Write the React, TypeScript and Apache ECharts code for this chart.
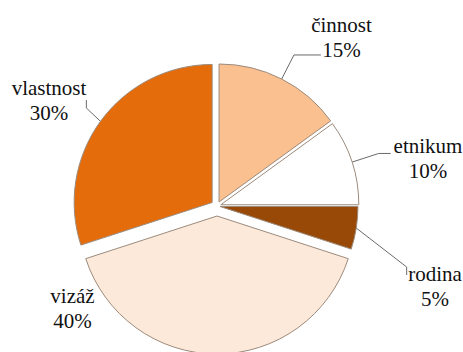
import React, { useEffect, useRef } from "react";
import * as echarts from "echarts";

// ---- data ----
const categories = ["činnost", "etnikum", "rodina", "vizáž", "vlastnost"];
const values = [15, 10, 5, 40, 30];
const colors = ["#FAC090", "#FFFFFF", "#984807", "#FDE9D9", "#E46C0A"];

// ---- per-slice presentation (explode offsets, leader lines, label text placement) ----
const sliceCfg: any[] = [
  { offset: 4.5, length: 27, length2: 27, layout: null, width: 10, line: true, tx: 341.5, ty: 25 },
  { offset: 4, length: 28, length2: 12, layout: null, width: 10, line: true, tx: 428, ty: 146 },
  { offset: 3, length: 10, length2: 8, layout: { x: 405, y: 281, align: "left" }, width: 50, line: true, tx: 435, ty: 274 },
  { offset: 10, length: 10, length2: 5, layout: null, width: 10, line: false, tx: 72.5, ty: 295.5 },
  { offset: 6, length: 10, length2: 8, layout: { x: 88, y: 94, align: "right" }, width: 60, line: true, tx: 49, ty: 88 },
];

const CX = 217;
const CY = 206;
const FONT = "21px Liberation Serif";
const LINE_GAP = 25;

const total = values.reduce((a, b) => a + b, 0);

function buildSeries(i: number) {
  const cfg = sliceCfg[i];
  const before = values.slice(0, i).reduce((a, b) => a + b, 0);
  const mid = ((before + values[i] / 2) / total) * Math.PI * 2;
  const center = [CX + cfg.offset * Math.sin(mid), CY - cfg.offset * Math.cos(mid)];
  const s: any = {
    type: "pie",
    center,
    radius: 138,
    startAngle: 90,
    clockwise: true,
    avoidLabelOverlap: false,
    silent: true,
    emphasis: { disabled: true },
    // label anchors only drive the leader lines; visible text is drawn by graphic texts
    label: {
      show: cfg.line,
      position: "outside",
      formatter: () => " ",
      color: "rgba(0,0,0,0)",
      width: cfg.width,
      padding: 0,
      distanceToLabelLine: 0,
    },
    labelLine: {
      show: cfg.line,
      length: cfg.length,
      length2: cfg.length2,
      smooth: false,
      lineStyle: { color: "#6a6a6a", width: 1 },
    },
    data: categories.map((name, j) =>
      j === i
        ? { name, value: values[j], itemStyle: { color: colors[j], borderColor: "#9c8b7c", borderWidth: 1 } }
        : {
            name,
            value: values[j],
            itemStyle: { color: "rgba(0,0,0,0)", borderWidth: 0 },
            label: { show: false },
            labelLine: { show: false },
          }
    ),
  };
  if (cfg.layout) s.labelLayout = cfg.layout;
  return s;
}

function buildLabels() {
  const out: any[] = [];
  categories.forEach((name, i) => {
    const pct = `${Math.round((values[i] / total) * 100)}%`;
    [name, pct].forEach((t, k) => {
      out.push({
        type: "text",
        x: sliceCfg[i].tx,
        y: sliceCfg[i].ty + k * LINE_GAP,
        silent: true,
        style: {
          text: t,
          font: FONT,
          fill: "#111",
          align: "center",
          verticalAlign: "middle",
        },
      });
    });
  });
  return out;
}

export default function App() {
  const ref = useRef<HTMLDivElement>(null);
  useEffect(() => {
    if (!ref.current) return;
    const chart = echarts.init(ref.current, null, { renderer: "svg" });
    chart.setOption({
      animation: false,
      backgroundColor: "#ffffff",
      graphic: buildLabels(),
      series: categories.map((_, i) => buildSeries(i)),
    });
    return () => chart.dispose();
  }, []);
  return <div ref={ref} style={{ position: "absolute", left: 0, top: 0, width: 463, height: 352 }} />;
}
